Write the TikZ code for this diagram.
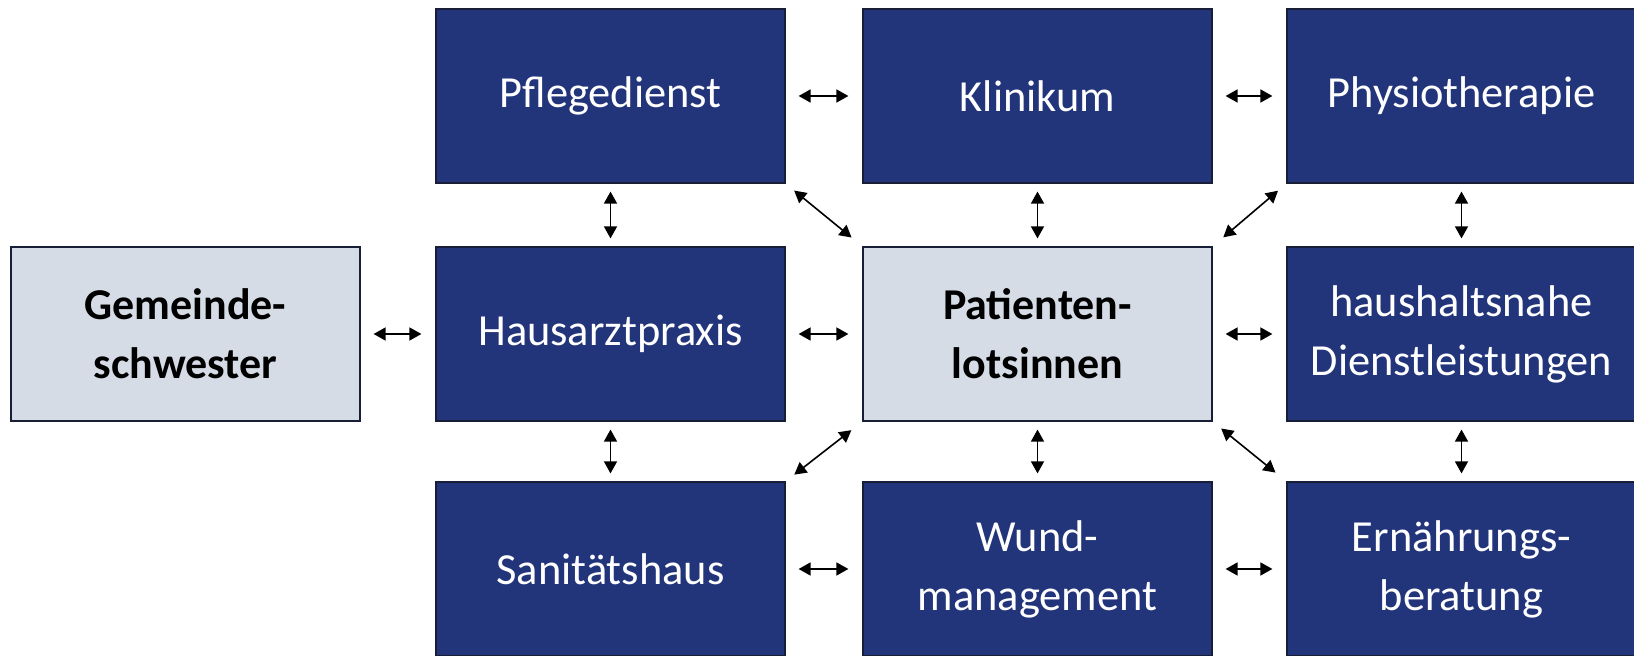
\documentclass[tikz,border=0pt]{standalone}
\usepackage{fontspec}
\setmainfont{Carlito}
\usetikzlibrary{arrows.meta}
\definecolor{navy}{RGB}{34,52,122}
\definecolor{lightfill}{RGB}{214,220,229}
\definecolor{edgecol}{RGB}{25,30,55}
\begin{document}
\begin{tikzpicture}[x=0.5pt,y=-0.5pt,
  box/.style={rectangle, draw=edgecol, line width=0.6pt, minimum width=174.5pt, minimum height=87pt, inner sep=0pt, align=center, font=\fontsize{22.2}{29.5}\selectfont},
  darkbox/.style={box, fill=navy, text=white},
  lightbox/.style={box, fill=lightfill, text=black, font=\fontsize{22}{29.5}\selectfont\bfseries},
  link/.style={line width=0.8pt, black, {Triangle[length=6pt,width=6.5pt]}-{Triangle[length=6pt,width=6.5pt]}},
  hlink/.style={link, shorten <=6.5pt, shorten >=7pt},
  vlink/.style={link, shorten <=4pt, shorten >=4pt},
  dlink/.style={link, shorten <=5.5pt, shorten >=7pt}
]
\useasboundingbox (0,0) rectangle (1634,656);
\begin{scope}
\clip (0,0) rectangle (1634,656);
\node[darkbox] (pfl) at (610.5,96) {Pflegedienst};
\node[darkbox] (kli) at (1037.5,96) {Klinikum};
\node[darkbox] (phy) at (1461.5,96) {Physiotherapie};
\node[lightbox] (gem) at (185.5,334) {Gemeinde-\\schwester};
\node[darkbox] (haus) at (610.5,334) {Hausarztpraxis};
\node[lightbox] (pat) at (1037.5,334) {Patienten-\\lotsinnen};
\node[darkbox] (dien) at (1461.5,334) {haushaltsnahe\\Dienstleistungen};
\node[darkbox] (san) at (610.5,569) {Sanitätshaus};
\node[darkbox] (wund) at (1037.5,569) {Wund-\\management};
\node[darkbox] (ern) at (1461.5,569) {Ernährungs-\\beratung};
\end{scope}
\draw[hlink] (pfl.east) -- (kli.west);
\draw[hlink] (kli.east) -- (phy.west);
\draw[hlink] (gem.east) -- (haus.west);
\draw[hlink] (haus.east) -- (pat.west);
\draw[hlink] (pat.east) -- (dien.west);
\draw[hlink] (san.east) -- (wund.west);
\draw[hlink] (wund.east) -- (ern.west);
\draw[vlink] (pfl.south) -- (haus.north);
\draw[vlink] (kli.south) -- (pat.north);
\draw[vlink] (phy.south) -- (dien.north);
\draw[vlink] (haus.south) -- (san.north);
\draw[vlink] (pat.south) -- (wund.north);
\draw[vlink] (dien.south) -- (ern.north);
\draw[dlink] (pfl.south east) -- (pat.north west);
\draw[dlink] (phy.south west) -- (pat.north east);
\draw[dlink] (san.north east) -- (pat.south west);
\draw[dlink] (pat.south east) -- (ern.north west);
\end{tikzpicture}
\end{document}
